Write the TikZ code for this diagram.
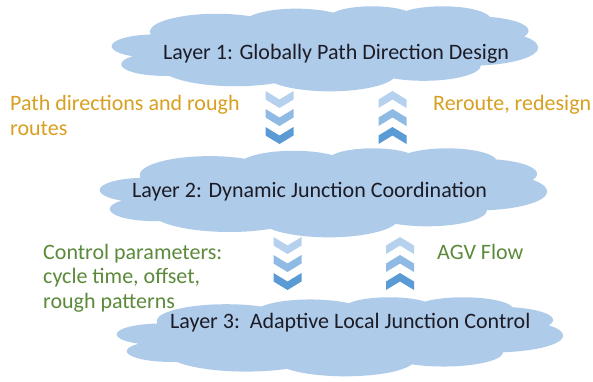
\documentclass[tikz,border=0pt]{standalone}
\usepackage{fontspec}
\setmainfont{Carlito}

\definecolor{cloudblue}{RGB}{174,203,234}
\definecolor{chevlight}{RGB}{182,209,237}
\definecolor{chevmid}{RGB}{143,186,228}
\definecolor{chevdark}{RGB}{91,155,213}
\definecolor{labelgold}{RGB}{216,160,32}
\definecolor{labelgreen}{RGB}{91,138,58}
\definecolor{layerink}{RGB}{28,28,38}

% cloud outline in a 43.2 x 43.2 box (y pointing down), scaled per use
\newcommand\officecloudpath{%
  (3.9,14.37)
  arc[start angle=-187.75, end angle=-59.64, x radius=6.753pt, y radius=9.19pt]
  arc[start angle=-152.02, end angle=-45.45, x radius=5.333pt, y radius=7.267pt]
  arc[start angle=-153.48, end angle=-37.33, x radius=4.365pt, y radius=5.945pt]
  arc[start angle=-139.71, end angle=-10.22, x radius=4.857pt, y radius=6.595pt]
  arc[start angle=-74.77, end angle=23.22, x radius=5.333pt, y radius=7.273pt]
  arc[start angle=-37.52, end angle=81.87, x radius=6.775pt, y radius=9.22pt]
  arc[start angle=0.46, end angle=121.98, x radius=5.785pt, y radius=7.867pt]
  arc[start angle=16.85, end angle=146.23, x radius=6.752pt, y radius=9.215pt]
  arc[start angle=58.98, end angle=150.19, x radius=7.72pt, y radius=10.543pt]
  arc[start angle=-276.69, end angle=-136.88, x radius=4.36pt, y radius=5.918pt]
  arc[start angle=-239.66, end angle=-95.89, x radius=4.345pt, y radius=5.945pt]
  -- cycle}

% three stacked chevrons pointing down / up, origin at top centre
\newcommand\chevcolumndown{%
  \foreach \k/\c in {0/chevlight,1/chevmid,2/chevdark}{
    \fill[\c] (-14,18*\k) -- (0,18*\k+8.5) -- (14,18*\k) -- (14,18*\k+8.5)
      -- (0,18*\k+17) -- (-14,18*\k+8.5) -- cycle;
  }}
\newcommand\chevcolumnup{%
  \foreach \k/\c in {0/chevlight,1/chevmid,2/chevdark}{
    \fill[\c] (-14,18*\k+8.5) -- (0,18*\k) -- (14,18*\k+8.5) -- (14,18*\k+17)
      -- (0,18*\k+8.5) -- (-14,18*\k+17) -- cycle;
  }}

\tikzset{
  layertext/.style={font=\fontsize{22}{26}\selectfont, text=layerink,
    inner sep=0pt, anchor=base west},
  % multi-line labels: the base anchor sits on the last line
  goldlabel/.style={font=\fontsize{22}{25}\selectfont, text=labelgold,
    inner sep=0pt, anchor=base west, align=left},
  greenlabel/.style={font=\fontsize{22}{24.5}\selectfont, text=labelgreen,
    inner sep=0pt, anchor=base west, align=left},
}

\begin{document}
\begin{tikzpicture}[x=1pt, y=1pt, yscale=-1]
  \fill[white] (0,0) rectangle (593,381);
  \useasboundingbox (0,0) rectangle (593,381);

  % the three layers
  \begin{scope}[shift={(112,6)}, xscale=9.861, yscale=1.968]
    \fill[cloudblue] \officecloudpath;
  \end{scope}
  \begin{scope}[shift={(100,148)}, xscale=10.347, yscale=2.060]
    \fill[cloudblue] \officecloudpath;
  \end{scope}
  \begin{scope}[shift={(117,297)}, xscale=10.324, yscale=1.829]
    \fill[cloudblue] \officecloudpath;
  \end{scope}

  \node[layertext] (layer1) at (163,59) {Layer 1: Globally Path Direction Design};
  \node[layertext] (layer2) at (132,197) {Layer 2: Dynamic Junction Coordination};
  \node[layertext] (layer3) at (170,328) {Layer 3:\ \ Adaptive Local Junction Control};

  % flows between layer 1 and layer 2
  \coordinate (downA) at (279.5,91);
  \coordinate (upA) at (392.5,91);
  \begin{scope}[shift={(downA)}] \chevcolumndown \end{scope}
  \begin{scope}[shift={(upA)}] \chevcolumnup \end{scope}
  \node[goldlabel] (pathdir) at (10,135) {Path directions and rough\\routes};
  \node[goldlabel] (reroute) at (433,110) {Reroute, redesign};

  % flows between layer 2 and layer 3
  \coordinate (downB) at (287.5,237);
  \coordinate (upB) at (400,237);
  \begin{scope}[shift={(downB)}] \chevcolumndown \end{scope}
  \begin{scope}[shift={(upB)}] \chevcolumnup \end{scope}
  \node[greenlabel] (ctrl) at (43,308) {Control parameters:\\cycle time, offset,\\rough patterns};
  \node[greenlabel] (agv) at (437,259) {AGV Flow};
\end{tikzpicture}
\end{document}
